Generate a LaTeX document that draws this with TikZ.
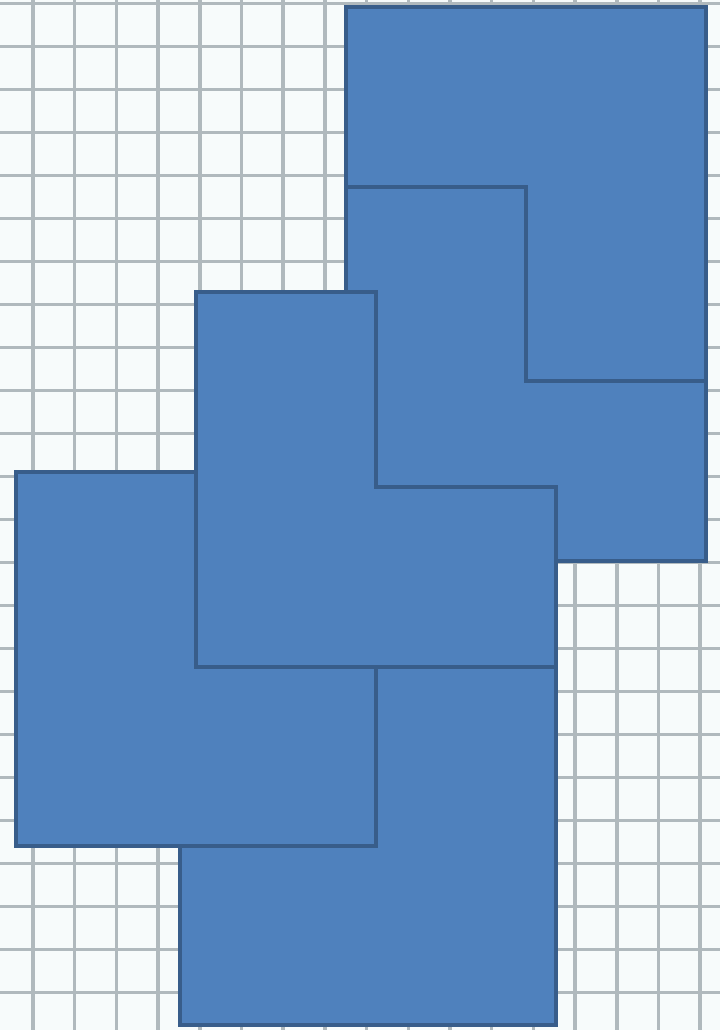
\documentclass[tikz,border=0pt]{standalone}
\definecolor{paper}{RGB}{247,251,251}
\definecolor{gridc}{RGB}{176,185,189}
\definecolor{blockfill}{RGB}{79,129,189}
\definecolor{blockline}{RGB}{56,93,138}
\begin{document}
\begin{tikzpicture}[x=1pt,y=-1pt,
  gridline/.style={draw=gridc,line width=3.5pt},
  block/.style={fill=blockfill,draw=blockline,line width=4.5pt,line join=miter}]
\useasboundingbox (0,0) rectangle (720,1030);
\fill[paper] (0,0) rectangle (720,1030);
% grid
\foreach \k in {0,...,16} {\draw[gridline] (33+41.7*\k,0) -- (33+41.7*\k,1030);}
\foreach \k in {0,...,23} {\draw[gridline] (0,3.3+43*\k) -- (720,3.3+43*\k);}
% bottom block E
\draw[block] (180,667) -- (556,667) -- (556,1025) -- (180,1025) -- cycle;
% left block D
\draw[block] (16,472) -- (376,472) -- (376,846) -- (16,846) -- cycle;
% right lower block B
\draw[block] (346,187) -- (706,187) -- (706,561) -- (346,561) -- cycle;
% top block A (L-shape)
\draw[block] (346,7) -- (706,7) -- (706,381) -- (526,381) -- (526,187) -- (346,187) -- cycle;
% middle block C (L-shape)
\draw[block] (196,292) -- (376,292) -- (376,487) -- (556,487) -- (556,667) -- (196,667) -- cycle;
\end{tikzpicture}
\end{document}
